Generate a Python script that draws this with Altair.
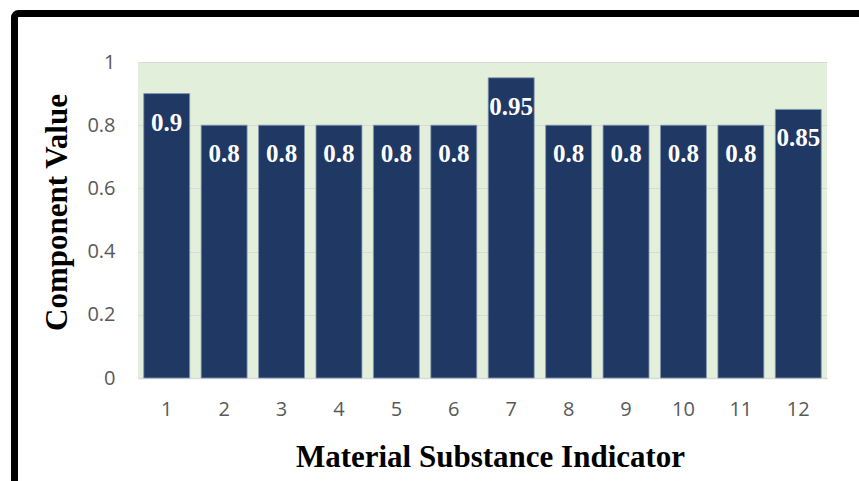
import altair as alt
import pandas as pd

indicators = ["1", "2", "3", "4", "5", "6", "7", "8", "9", "10", "11", "12"]
values = [0.9, 0.8, 0.8, 0.8, 0.8, 0.8, 0.95, 0.8, 0.8, 0.8, 0.8, 0.85]
labels = ["0.9", "0.8", "0.8", "0.8", "0.8", "0.8", "0.95", "0.8", "0.8", "0.8", "0.8", "0.85"]

df = pd.DataFrame({"indicator": indicators, "value": values, "label": labels})

x_enc = alt.X(
    "indicator:N",
    sort=indicators,
    scale=alt.Scale(paddingInner=0.2, paddingOuter=0.1),
    axis=alt.Axis(
        title="Material Substance Indicator",
        labelAngle=0,
        ticks=False,
        labelPadding=21,
        labelFont="Open Sans",
        labelFontSize=20,
        labelColor="#595959",
        domainColor="#D9D9D9",
        domainWidth=1.5,
        titleFont="Liberation Serif",
        titleFontSize=31,
        titleFontWeight="bold",
        titleColor="#000000",
        titleX=352,
        titleY=88,
        titleBaseline="alphabetic",
        titleAlign="center",
    ),
)

y_enc = alt.Y(
    "value:Q",
    scale=alt.Scale(domain=[0, 1], nice=False),
    axis=alt.Axis(
        title="Component Value",
        values=[0, 0.2, 0.4, 0.6, 0.8, 1],
        format=".1~f",
        ticks=False,
        domain=False,
        labelPadding=23,
        labelFont="Open Sans",
        labelFontSize=20,
        labelColor="#595959",
        gridColor="#D9D9D9",
        gridWidth=1,
        titleFont="Liberation Serif",
        titleFontSize=31,
        titleFontWeight="bold",
        titleColor="#000000",
        titleAngle=-90,
        titleX=-72,
        titleY=150,
        titleBaseline="alphabetic",
        titleAlign="center",
    ),
)

bars = alt.Chart(df).mark_bar(
    color="#203864", stroke="#8497B0", strokeWidth=0.8
).encode(x=x_enc, y=y_enc)

text = alt.Chart(df).mark_text(
    font="Liberation Serif",
    fontSize=25,
    fontWeight="bold",
    color="white",
    baseline="alphabetic",
    align="center",
    dy=37,
).encode(x=alt.X("indicator:N", sort=indicators), y=alt.Y("value:Q"), text="label:N")

frame = alt.Chart(pd.DataFrame({"a": [0]})).mark_rect(
    fill=None, fillOpacity=0, stroke="black", strokeWidth=7, cornerRadius=4, clip=False
).encode(
    x=alt.value(-123.5), x2=alt.value(800), y=alt.value(-48.5), y2=alt.value(500)
)

chart = alt.layer(bars, text, frame).properties(
    width=689,
    height=316,
    padding={"left": 138, "top": 62, "right": 32, "bottom": 103},
    autosize=alt.AutoSizeParams(type="none"),
    background="white",
).configure_view(fill="#E2EFDA", stroke=None)

chart.save("out.html", embed_options={"renderer": "svg", "actions": False})
